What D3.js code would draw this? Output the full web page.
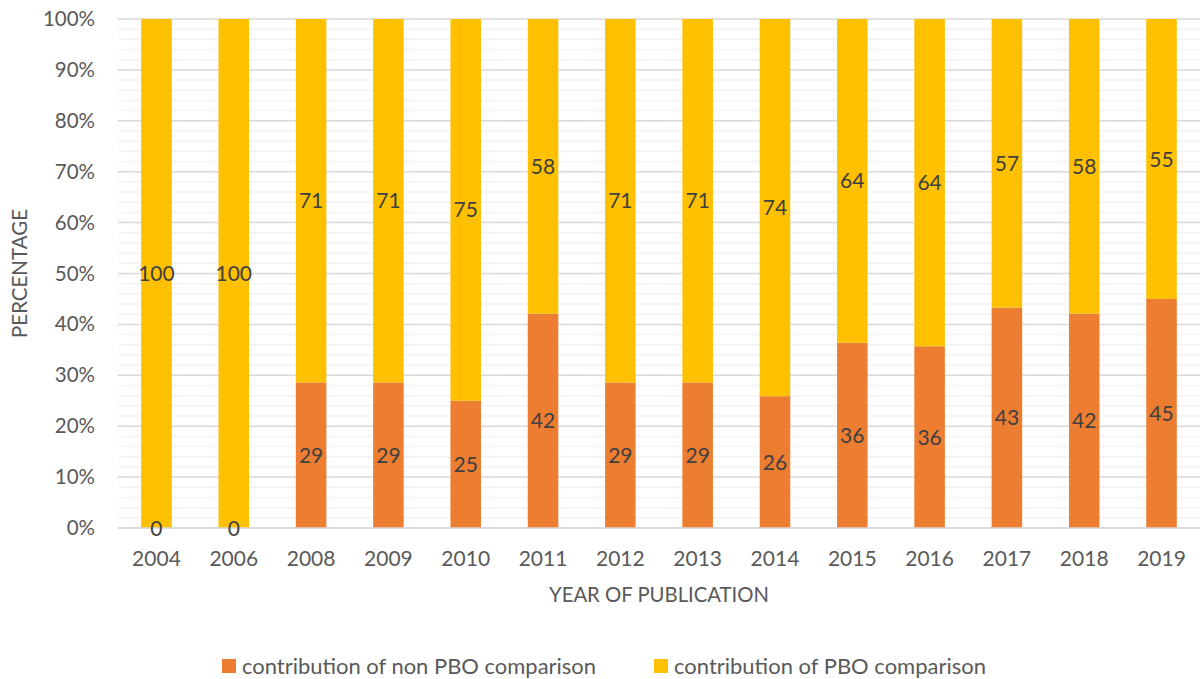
<!DOCTYPE html>
<html>
<head>
<meta charset="utf-8">
<script src="https://cdn.jsdelivr.net/npm/d3@7"></script>
<style>
  body { margin: 0; background: #fff; }
  text { font-family: Lato, "Open Sans", sans-serif; }
</style>
</head>
<body>
<div id="chart"></div>
<script>
// data (percent)
const years = ["2004", "2006", "2008", "2009", "2010", "2011", "2012", "2013", "2014", "2015", "2016", "2017", "2018", "2019"];
const nonPbo = [0, 0, 28.6, 28.6, 25, 42.1, 28.6, 28.6, 25.9, 36.4, 35.7, 43.3, 42.1, 45];
const pbo = [100, 100, 71.4, 71.4, 75, 57.9, 71.4, 71.4, 74.1, 63.6, 64.3, 56.7, 57.9, 55];
const seriesNames = ["contribution of non PBO comparison", "contribution of PBO comparison"];
const colors = ["#ED7D31", "#FFC000"];
const yTicks = [0, 10, 20, 30, 40, 50, 60, 70, 80, 90, 100];

const width = 1200, height = 679;
const margin = { top: 19, right: 0, bottom: 151, left: 118 };
const font = "Lato, 'Open Sans', sans-serif";

const svg = d3.select("#chart").append("svg")
  .attr("width", width).attr("height", height);

const x = d3.scaleBand().domain(years)
  .range([margin.left, width - margin.right])
  .paddingInner(0.605).paddingOuter(0.3);

const y = d3.scaleLinear().domain([0, 100])
  .range([height - margin.bottom, margin.top]);

// minor grid every 2%
svg.append("g").selectAll("line")
  .data(d3.range(2, 100, 2).filter(d => d % 10 !== 0))
  .join("line")
  .attr("x1", margin.left).attr("x2", width - margin.right)
  .attr("y1", d => y(d)).attr("y2", d => y(d))
  .attr("stroke", "#F2F2F2").attr("stroke-width", 1.5);

// major grid
svg.append("g").selectAll("line")
  .data(yTicks)
  .join("line")
  .attr("x1", margin.left).attr("x2", width - margin.right)
  .attr("y1", d => y(d)).attr("y2", d => y(d))
  .attr("stroke", "#D9D9D9").attr("stroke-width", 1.5);

// y axis labels
const yAxis = svg.append("g")
  .attr("transform", `translate(${margin.left},0)`)
  .call(d3.axisLeft(y).tickValues(yTicks).tickFormat(d => d + "%").tickSize(0).tickPadding(23));
yAxis.select(".domain").remove();
yAxis.selectAll("text").attr("font-size", 20.5).attr("fill", "#595959").style("font-family", font);

// x axis labels
const xAxis = svg.append("g")
  .attr("transform", `translate(0,${y(0)})`)
  .call(d3.axisBottom(x).tickSize(0).tickPadding(23));
xAxis.select(".domain").remove();
xAxis.selectAll("text").attr("font-size", 21).attr("fill", "#595959").style("font-family", font);

// stacked bars
const rows = years.map((yr, i) => ({ year: yr, a: nonPbo[i], b: pbo[i] }));
const stack = d3.stack().keys(["a", "b"])(rows);

const layers = svg.append("g").selectAll("g")
  .data(stack)
  .join("g")
  .attr("fill", (d, i) => colors[i]);

layers.selectAll("rect")
  .data(d => d)
  .join("rect")
  .attr("x", d => x(d.data.year))
  .attr("width", x.bandwidth())
  .attr("y", d => y(d[1]))
  .attr("height", d => y(d[0]) - y(d[1]));

// x axis baseline
svg.append("line")
  .attr("x1", margin.left).attr("x2", width - margin.right)
  .attr("y1", y(0)).attr("y2", y(0))
  .attr("stroke", "#D9D9D9").attr("stroke-width", 1.5);

// data labels, on top of everything
svg.append("g").selectAll("g")
  .data(stack)
  .join("g")
  .selectAll("text")
  .data(d => d)
  .join("text")
  .attr("x", d => x(d.data.year) + x.bandwidth() / 2)
  .attr("y", d => y((d[0] + d[1]) / 2))
  .attr("dy", "0.36em")
  .attr("text-anchor", "middle")
  .attr("font-size", 21)
  .attr("fill", "#404040")
  .text(d => d3.format(".0f")(d[1] - d[0]));

// axis titles
svg.append("text")
  .attr("x", (margin.left + width - margin.right) / 2)
  .attr("y", 595)
  .attr("dy", "0.36em")
  .attr("text-anchor", "middle")
  .attr("font-size", 20.3)
  .attr("fill", "#595959")
  .text("YEAR OF PUBLICATION");

svg.append("text")
  .attr("transform", `translate(20,${y(50)}) rotate(-90)`)
  .attr("dy", "0.36em")
  .attr("text-anchor", "middle")
  .attr("font-size", 20.5)
  .attr("fill", "#595959")
  .text("PERCENTAGE");

// legend
const legendX = [222, 654];
const legendW = [354, 312];
const legend = svg.append("g").selectAll("g")
  .data(seriesNames)
  .join("g")
  .attr("transform", (d, i) => `translate(${legendX[i]},666)`);
legend.append("rect")
  .attr("x", 0).attr("y", -7).attr("width", 14).attr("height", 14)
  .attr("fill", (d, i) => colors[i]);
legend.append("text")
  .attr("x", 20).attr("dy", "0.36em")
  .attr("font-size", 22).attr("fill", "#595959")
  .attr("textLength", (d, i) => legendW[i])
  .attr("lengthAdjust", "spacingAndGlyphs")
  .text(d => d);
</script>
</body>
</html>
